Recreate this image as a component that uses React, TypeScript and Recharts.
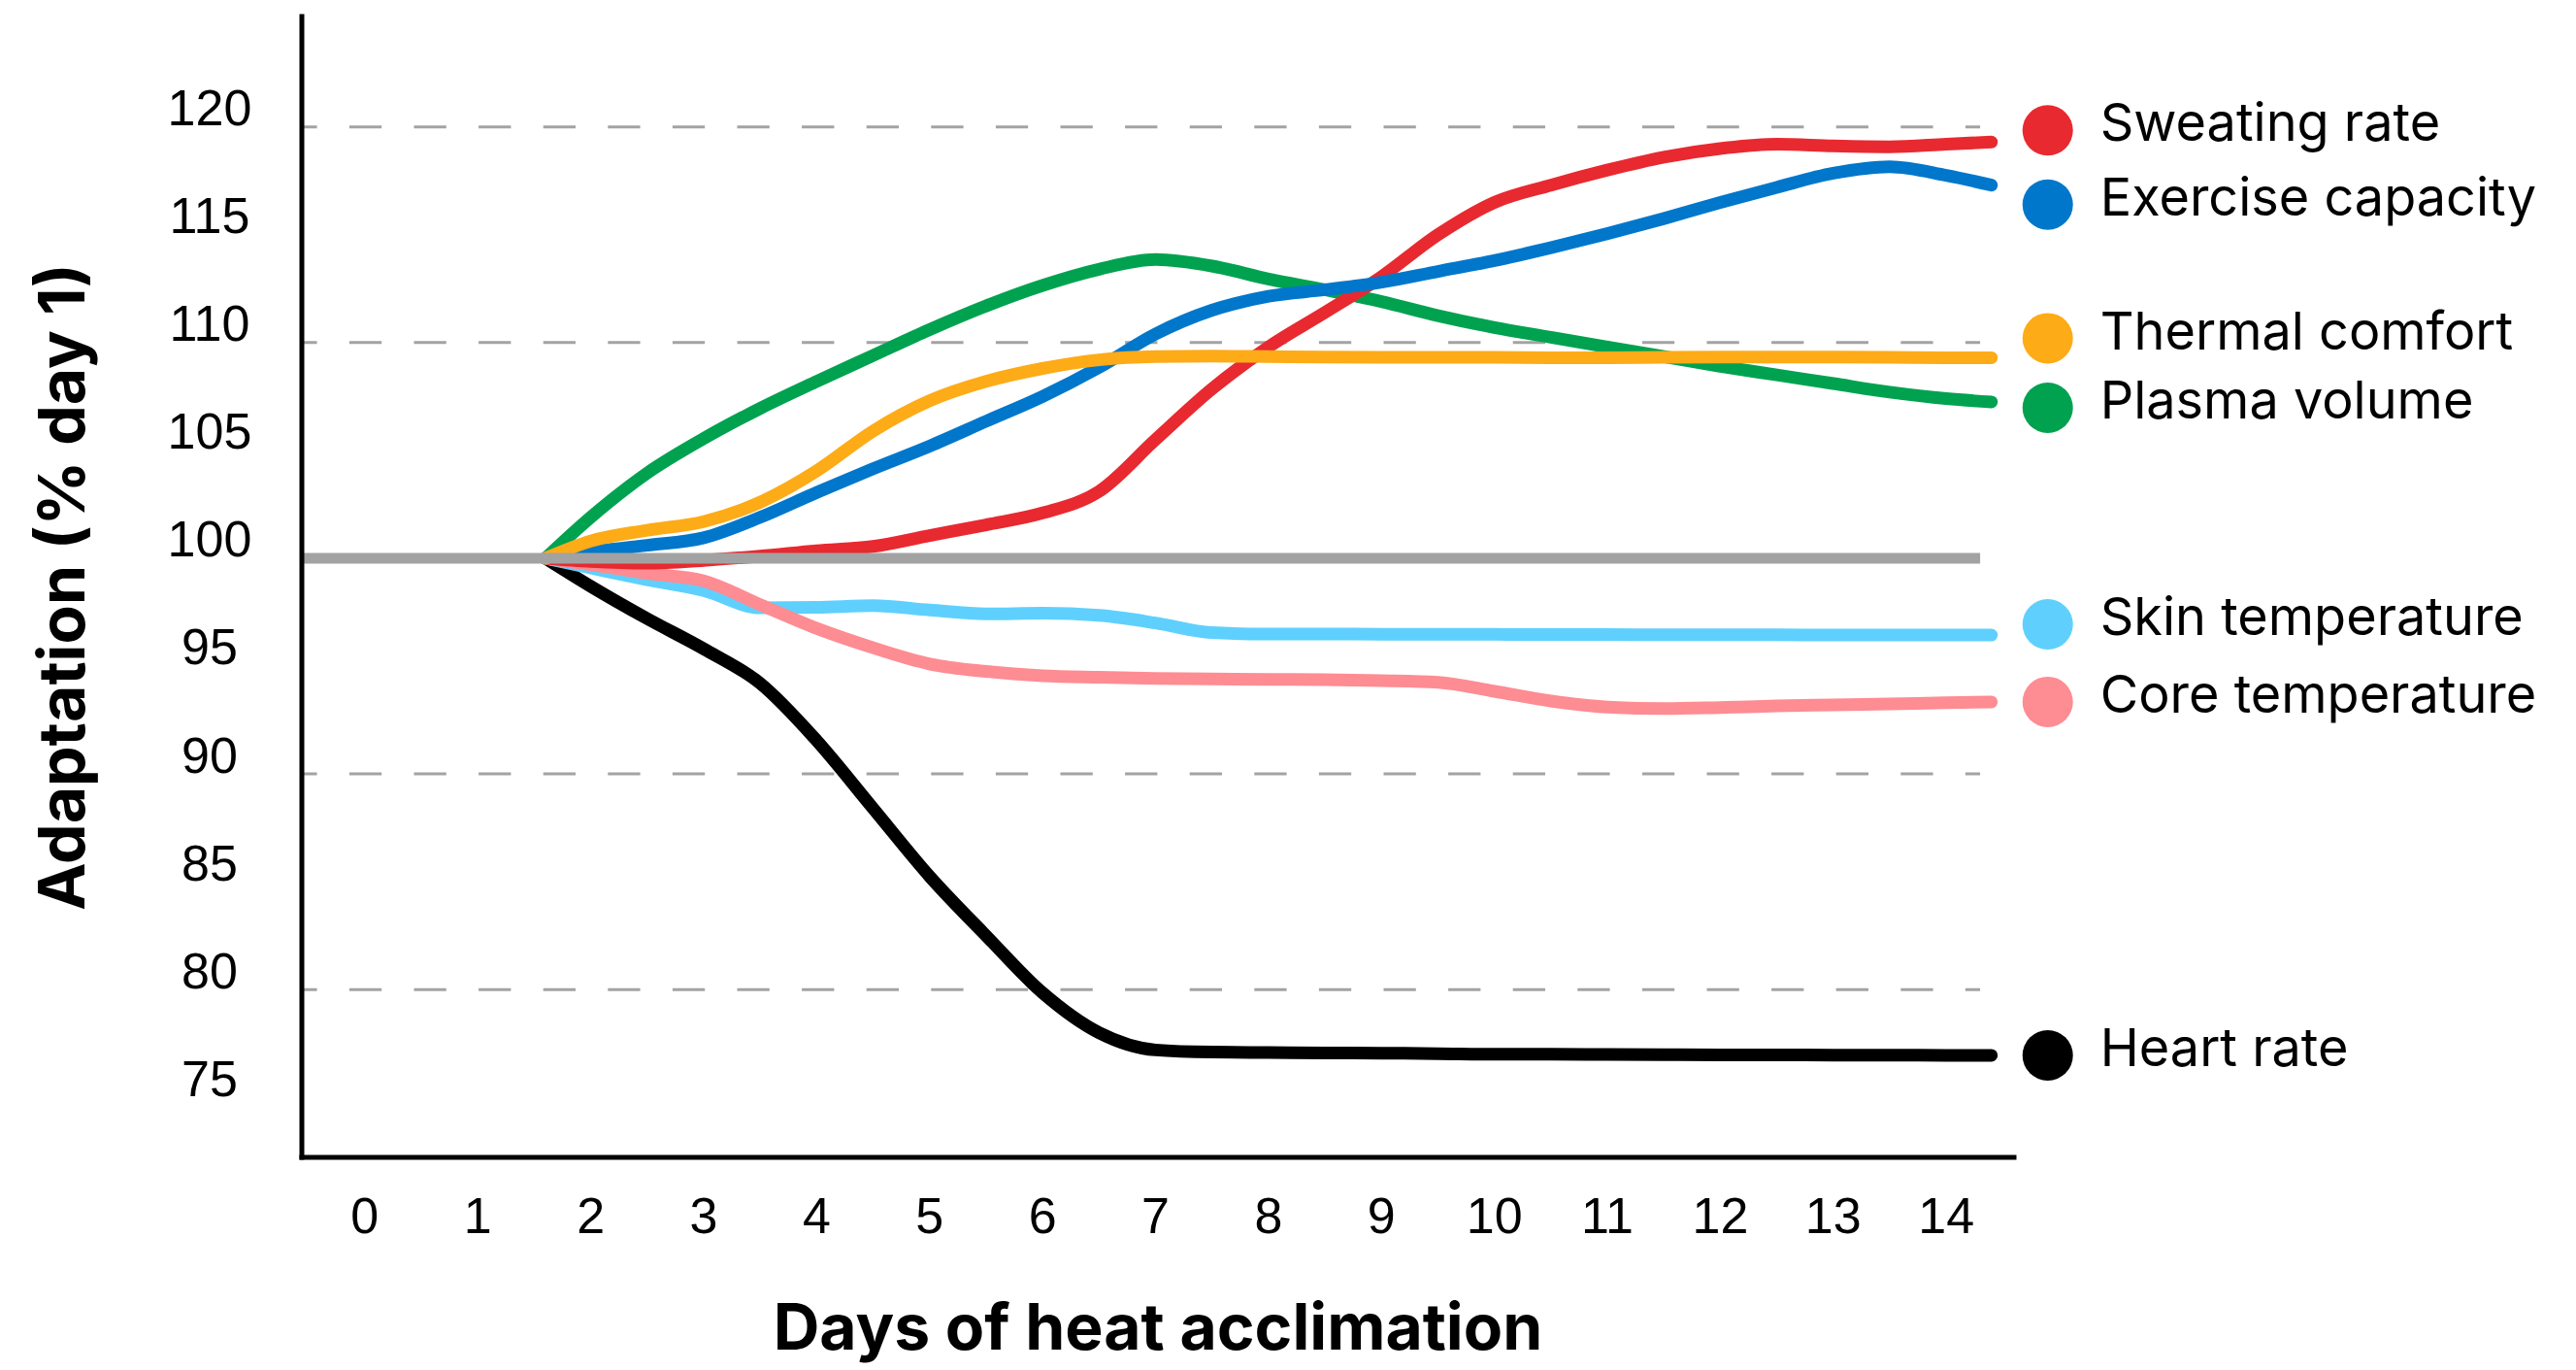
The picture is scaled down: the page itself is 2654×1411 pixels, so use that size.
import React from "react";
import { LineChart, Line, XAxis, YAxis, ReferenceLine, LabelList } from "recharts";

const DAYS = [
  1.6, 2, 2.5, 3, 3.5, 4, 4.5, 5, 5.5, 6, 6.5, 7, 7.5, 8, 8.5, 9, 9.5, 10,
  10.5, 11, 11.5, 12, 12.5, 13, 13.5, 14, 14.4,
];

// adaptation, % of day 1
const SWEATING_RATE = [
  100, 99.85, 99.77, 99.9, 100.1, 100.35, 100.55, 101.05, 101.55, 102.1, 103.1,
  105.5, 107.85, 109.8, 111.4, 113.05, 115.0, 116.5, 117.3, 118.0, 118.6, 119.0,
  119.2, 119.12, 119.08, 119.2, 119.3,
];
const EXERCISE_CAPACITY = [
  100, 100.3, 100.6, 100.95, 101.9, 103.05, 104.15, 105.2, 106.35, 107.5,
  108.85, 110.4, 111.5, 112.15, 112.45, 112.8, 113.3, 113.8, 114.4, 115.05,
  115.75, 116.5, 117.2, 117.85, 118.15, 117.75, 117.3,
];
const THERMAL_COMFORT = [
  100, 100.8, 101.3, 101.7, 102.6, 104.05, 105.9, 107.3, 108.2, 108.8, 109.2,
  109.35, 109.37, 109.35, 109.33, 109.32, 109.32, 109.32, 109.3, 109.3, 109.32,
  109.33, 109.33, 109.33, 109.32, 109.3, 109.3,
];
const PLASMA_VOLUME = [
  100, 101.9, 103.95, 105.55, 106.95, 108.2, 109.4, 110.6, 111.7, 112.65, 113.4,
  113.85, 113.55, 112.95, 112.45, 111.9, 111.25, 110.7, 110.25, 109.8, 109.35,
  108.9, 108.5, 108.1, 107.7, 107.4, 107.25,
];
const SKIN_TEMPERATURE = [
  100, 99.55, 99.0, 98.5, 97.7, 97.72, 97.8, 97.6, 97.42, 97.45, 97.35, 97.0,
  96.55, 96.49, 96.49, 96.48, 96.48, 96.47, 96.46, 96.46, 96.45, 96.45, 96.45,
  96.44, 96.44, 96.44, 96.44,
];
const CORE_TEMPERATURE = [
  100, 99.7, 99.3, 98.95, 97.85, 96.75, 95.85, 95.1, 94.75, 94.55, 94.48, 94.43,
  94.4, 94.38, 94.37, 94.33, 94.25, 93.83, 93.38, 93.1, 93.03, 93.08, 93.15,
  93.2, 93.25, 93.3, 93.34,
];
const HEART_RATE = [
  100, 98.7, 97.2, 95.8, 94.2, 91.55, 88.4, 85.25, 82.5, 79.85, 78.0, 77.2,
  77.1, 77.08, 77.06, 77.05, 77.03, 77.0, 77.0, 76.99, 76.98, 76.97, 76.97,
  76.96, 76.96, 76.95, 76.95,
];

const X_TICKS = [0, 1, 2, 3, 4, 5, 6, 7, 8, 9, 10, 11, 12, 13, 14];
const Y_TICKS = [75, 80, 85, 90, 95, 100, 105, 110, 115, 120];
const GRID_VALUES = [120, 110, 90, 80];
const BASELINE_VALUE = 100;
const GUIDE_END_DAY = 14.3;

const X_DOMAIN: [number, number] = [-0.557, 14.6];
const Y_DOMAIN: [number, number] = [72.22, 125.12];

// drawing order: first one ends up at the bottom
const SERIES = [
  { key: "heart", name: "Heart rate", color: "#000000", values: HEART_RATE, labelDy: 0 },
  { key: "skin", name: "Skin temperature", color: "#5fd0fd", values: SKIN_TEMPERATURE, labelDy: -11 },
  { key: "core", name: "Core temperature", color: "#fe8c93", values: CORE_TEMPERATURE, labelDy: 0 },
  { key: "plasma", name: "Plasma volume", color: "#00a250", values: PLASMA_VOLUME, labelDy: 6 },
  { key: "sweating", name: "Sweating rate", color: "#e82930", values: SWEATING_RATE, labelDy: -12 },
  { key: "exercise", name: "Exercise capacity", color: "#0177cb", values: EXERCISE_CAPACITY, labelDy: 20 },
  { key: "thermal", name: "Thermal comfort", color: "#feab18", values: THERMAL_COMFORT, labelDy: -20 },
];

const TICK_FONT = "'Liberation Sans', Arial, sans-serif";
const TEXT_FONT = "Inter, 'Liberation Sans', sans-serif";

const YTick = ({ x, y, payload }: any) => (
  <text
    x={x}
    y={y - 20}
    dy="0.355em"
    textAnchor="middle"
    fontSize={52}
    fontFamily={TICK_FONT}
    fill="#000"
  >
    {payload.value}
  </text>
);

const XTick = ({ x, y, payload }: any) => (
  <text
    x={x}
    y={y}
    dy="0.355em"
    textAnchor="middle"
    fontSize={52}
    fontFamily={TICK_FONT}
    fill="#000"
  >
    {payload.value}
  </text>
);

// dot + name placed just after the last point of each curve
const endLabel = (name: string, color: string, labelDy: number) => (props: any) => {
  const { x, y, index } = props;
  if (index !== DAYS.length - 1) return null;
  const cy = Number(y) + labelDy;
  return (
    <g>
      <circle cx={Number(x) + 58} cy={cy} r={26} fill={color} />
      <text
        x={Number(x) + 112}
        y={cy - 8}
        dy="0.355em"
        fontSize={54}
        fontFamily={TEXT_FONT}
        fill="#000"
      >
        {name}
      </text>
    </g>
  );
};

export default function App() {
  const rows = DAYS.map((day, i) => {
    const row: Record<string, number> = { day };
    SERIES.forEach((s) => {
      row[s.key] = s.values[i];
    });
    return row;
  });

  const baseline = [
    { day: X_DOMAIN[0], value: BASELINE_VALUE },
    { day: GUIDE_END_DAY, value: BASELINE_VALUE },
  ];

  return (
    <div
      style={{
        position: "absolute",
        left: 0,
        top: 0,
        width: 2654,
        height: 1411,
        background: "#fff",
      }}
    >
      <LineChart
        width={2654}
        height={1411}
        data={rows}
        margin={{ top: 17, right: 579, bottom: 9, left: 0 }}
      >
        <XAxis
          type="number"
          dataKey="day"
          domain={X_DOMAIN}
          ticks={X_TICKS}
          allowDataOverflow
          height={210}
          tickSize={0}
          tickMargin={60}
          tickLine={false}
          tick={<XTick />}
          axisLine={{ stroke: "#000", strokeWidth: 5, strokeLinecap: "square" }}
          label={{
            value: "Days of heat acclimation",
            position: "insideBottom",
            offset: 12,
            fontSize: 66,
            fontWeight: 700,
            fontFamily: TEXT_FONT,
            fill: "#000",
          }}
        />
        <YAxis
          type="number"
          domain={Y_DOMAIN}
          ticks={Y_TICKS}
          allowDataOverflow
          width={311}
          tickSize={0}
          tickMargin={95}
          tickLine={false}
          tick={<YTick />}
          axisLine={{ stroke: "#000", strokeWidth: 5, strokeLinecap: "square" }}
          label={{
            value: "Adaptation (% day 1)",
            angle: -90,
            position: "insideLeft",
            offset: 64,
            fontSize: 66,
            fontWeight: 700,
            fontFamily: TEXT_FONT,
            fill: "#000",
            style: { textAnchor: "middle" },
          }}
        />

        {GRID_VALUES.map((v) => (
          <ReferenceLine
            key={v}
            ifOverflow="visible"
            segment={[
              { x: X_DOMAIN[0], y: v },
              { x: GUIDE_END_DAY, y: v },
            ]}
            stroke="#a3a3a3"
            strokeWidth={3}
            strokeDasharray="33.3 33.3"
            strokeDashoffset={17.7}
          />
        ))}

        {SERIES.map((s) => (
          <Line
            key={s.key}
            type="monotone"
            dataKey={s.key}
            stroke={s.color}
            strokeWidth={13}
            strokeLinecap="round"
            strokeLinejoin="round"
            dot={false}
            activeDot={false}
            isAnimationActive={false}
          >
            <LabelList dataKey={s.key} content={endLabel(s.name, s.color, s.labelDy)} />
          </Line>
        ))}

        <Line
          data={baseline}
          type="linear"
          dataKey="value"
          stroke="#a2a2a2"
          strokeWidth={11}
          dot={false}
          activeDot={false}
          isAnimationActive={false}
        />
      </LineChart>
    </div>
  );
}
